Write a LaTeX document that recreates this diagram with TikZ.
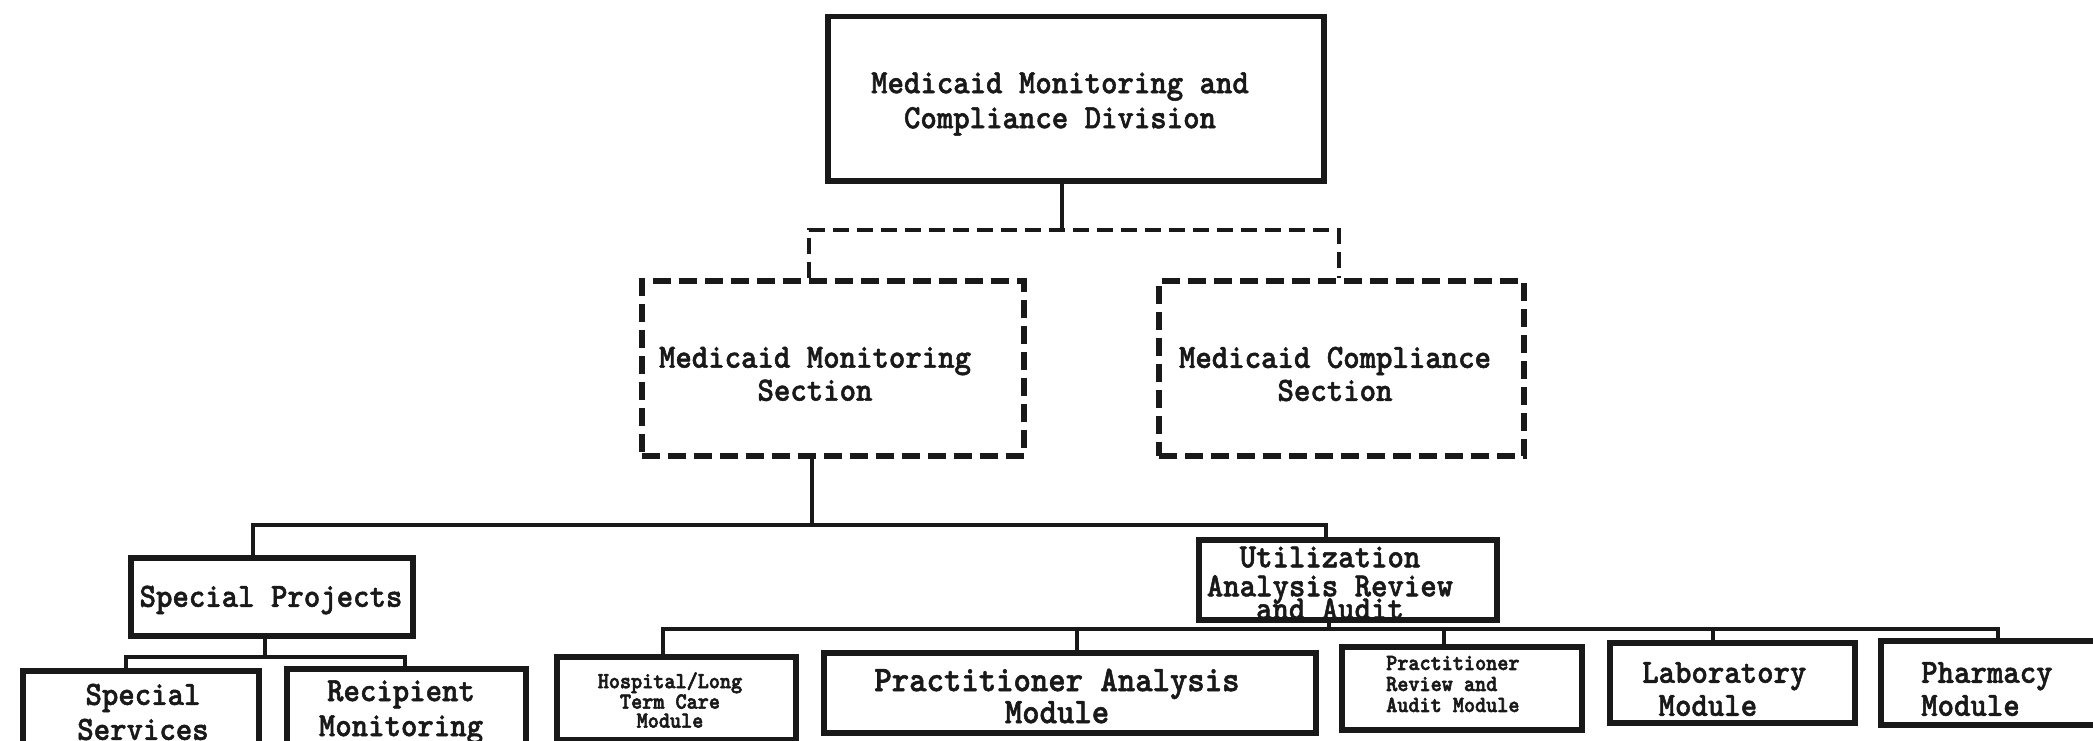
\documentclass[tikz,border=0pt]{standalone}
\usepackage{fontspec}
\newfontfamily\twfont{lmmonolt10-bold.otf}[FakeStretch=0.92,FakeBold=1.5]
\newfontfamily\twsmall{lmmonolt10-bold.otf}[FakeStretch=0.92,FakeBold=2.5]
\begin{document}
\begin{tikzpicture}[x=1pt,y=-1pt,
  box/.style={draw=black!90, line width=5.5pt, inner sep=0pt, anchor=north west},
  dbox/.style={box, dash pattern=on 18pt off 8pt},
  conn/.style={draw=black!90, line width=4.5pt, line cap=rect},
  dconn/.style={draw=black!90, line width=4.5pt, dash pattern=on 16pt off 8pt},
  lbl/.style={font=\twfont\fontsize{34}{35}\selectfont, align=center, inner sep=0pt, text=black!90},
  sml/.style={font=\twsmall\fontsize{23}{19}\selectfont, align=center, inner sep=0pt, text=black!90}
]
\useasboundingbox (0,0) rectangle (2093,741);

% boxes
\node[box, minimum width=496pt, minimum height=164pt] (top) at (825,14) {};
\node[dbox, minimum width=382pt, minimum height=175pt] (secL) at (639,278) {};
\node[dbox, minimum width=365pt, minimum height=175pt] (secR) at (1156,278) {};
\node[box, minimum width=282pt, minimum height=78pt] (SP) at (128,555) {};
\node[box, minimum width=298pt, minimum height=80pt] (UA) at (1196,537) {};
\node[box, line width=6pt, minimum width=236pt, minimum height=110pt] (SS) at (20,668) {};
\node[box, line width=6pt, minimum width=239pt, minimum height=110pt] (RM) at (284,666) {};
\node[box, line width=6pt, minimum width=239pt, minimum height=83pt] (HL) at (554,654) {};
\node[box, line width=6pt, minimum width=492pt, minimum height=80pt] (PA) at (821,650) {};
\node[box, line width=6pt, minimum width=240pt, minimum height=83pt] (PR) at (1339,644) {};
\node[box, line width=6pt, minimum width=245pt, minimum height=80pt] (LB) at (1607,640) {};
\node[box, line width=6pt, minimum width=260pt, minimum height=84pt] (PH) at (1878,638) {};

% texts
\node[lbl] (tTop) at (1060,104) {Medicaid Monitoring and\\Compliance Division};
\node[lbl, font=\twfont\fontsize{34}{33}\selectfont] (tSecL) at (815,374) {Medicaid Monitoring\\Section};
\node[lbl, font=\twfont\fontsize{34}{33}\selectfont] (tSecR) at (1335,374) {Medicaid Compliance\\Section};
\node[lbl] (tSP) at (271,600) {Special Projects};
\node[lbl] (tSS) at (143,712) {Special\\Services};
\node[lbl] (tRM) at (401,712) {Recipient\\Monitoring};
\node[sml] (tHL) at (670,700) {Hospital/Long\\Term Care\\Module};
\node[lbl, font=\twfont\fontsize{36}{32}\selectfont] (tPA) at (1057,696) {Practitioner Analysis\\Module};
\node[sml, align=left, anchor=west, font=\twsmall\fontsize{23}{21}\selectfont] (tPR) at (1386,684) {Practitioner\\Review and\\Audit Module};
\node[lbl, align=left, anchor=west, font=\twfont\fontsize{34}{33}\selectfont] (tLB) at (1642,689) {Laboratory\\~Module};
\node[lbl, align=left, anchor=west, font=\twfont\fontsize{34}{33}\selectfont] (tPH) at (1921,689) {Pharmacy\\Module};
\node[lbl, font=\twfont\fontsize{34}{29}\selectfont] (tUA) at (1330,583) {Utilization\\Analysis Review\\[-6pt]and Audit};

% connectors
\coordinate (d0) at (1062,230);
\coordinate (dl) at (809,230);
\coordinate (dr) at (1339,230);
\draw[conn] (top.south -| d0) -- (d0);
\draw[dconn] (secL.north -| dl) -- (dl) -- (dr) -- (secR.north -| dr);

\coordinate (j0) at (812,525);
\coordinate (a1) at (253,525);
\coordinate (a2) at (1326,525);
\draw[conn] (secL.south -| j0) -- (j0);
\draw[conn] (SP.north -| a1) -- (a1) -- (a2) -- (UA.north -| a2);

\coordinate (b0) at (265,657);
\coordinate (b1) at (126,657);
\coordinate (b2) at (405,657);
\draw[conn] (SP.south -| b0) -- (b0);
\draw[conn] (SS.north -| b1) -- (b1) -- (b2) -- (RM.north -| b2);

\coordinate (c0) at (1329,629);
\coordinate (c1) at (663,629);
\coordinate (c2) at (1077,629);
\coordinate (c3) at (1444,629);
\coordinate (c4) at (1713,629);
\coordinate (c5) at (1998,629);
\draw[conn] (UA.south -| c0) -- (c0);
\draw[conn] (HL.north -| c1) -- (c1) -- (c5) -- (PH.north -| c5);
\draw[conn] (c2) -- (PA.north -| c2);
\draw[conn] (c3) -- (PR.north -| c3);
\draw[conn] (c4) -- (LB.north -| c4);
\end{tikzpicture}
\end{document}
